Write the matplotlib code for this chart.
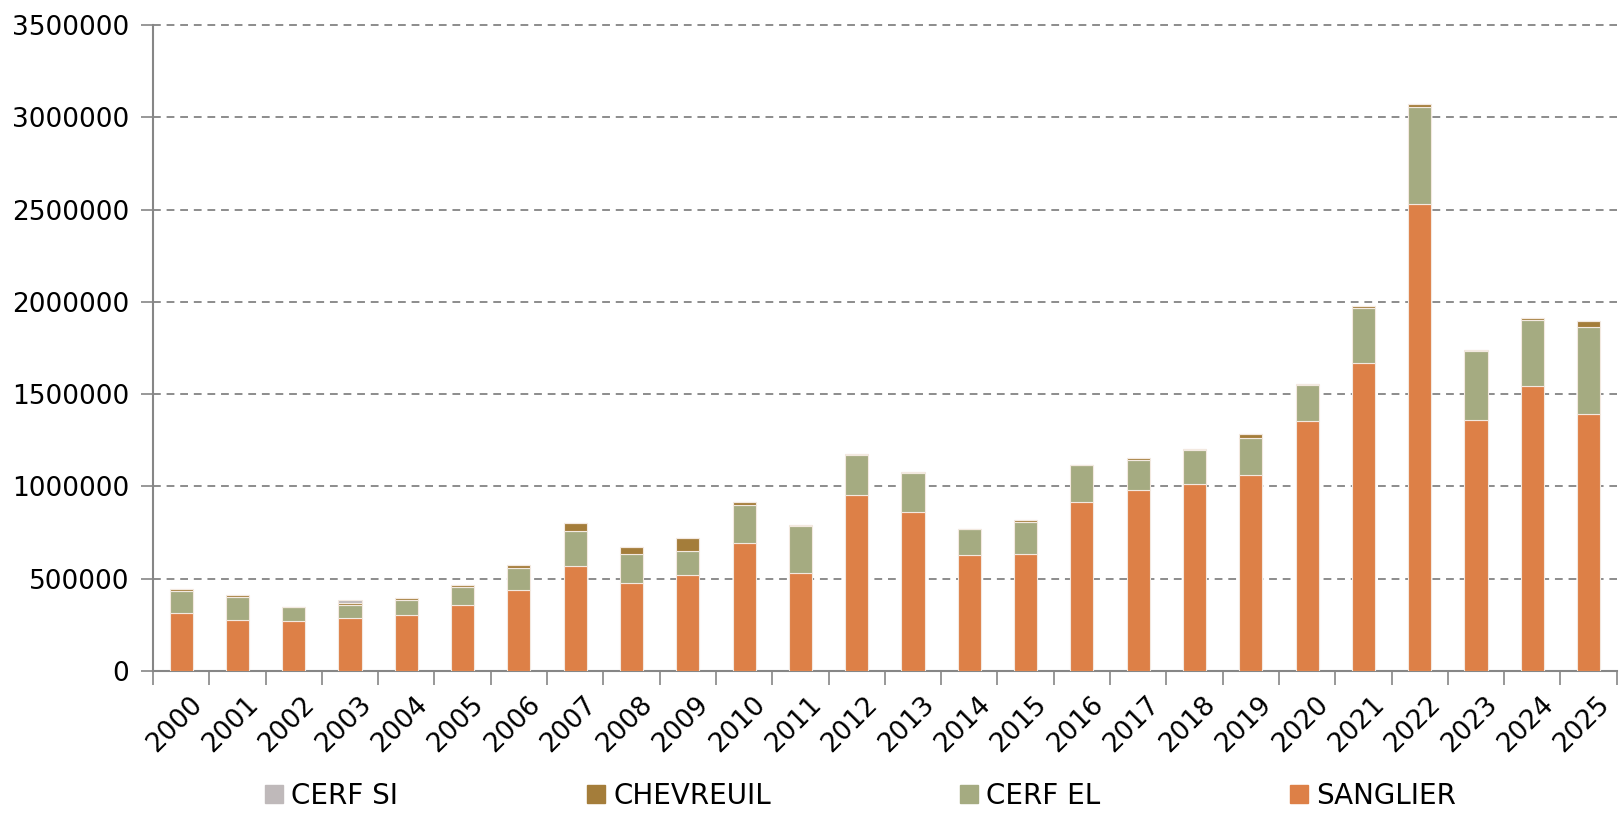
import numpy as np
import matplotlib.pyplot as plt
import matplotlib.transforms as mtransforms
from matplotlib.patches import Patch

years = [str(y) for y in range(2000, 2026)]

sanglier = [313000, 277000, 270000, 286000, 304000, 357000, 440000, 567000, 476000, 522000,
            694000, 533000, 951000, 864000, 626000, 636000, 915000, 978000, 1012000, 1061000,
            1355000, 1666000, 2528000, 1359000, 1542000, 1392000]
cerf_el = [118000, 123000, 76000, 74000, 82000, 96000, 116000, 194000, 156000, 130000,
           206000, 250000, 219000, 206000, 141000, 172000, 199000, 166000, 185000, 203000,
           197000, 302000, 530000, 377000, 360000, 473000]
chevreuil = [14000, 11000, 3000, 9000, 9000, 11000, 16000, 40000, 42000, 69000,
             17000, 7000, 7000, 9000, 2000, 11000, 3000, 9000, 5000, 19000,
             4000, 11000, 15000, 4000, 10000, 31000]
cerf_si = [0, 0, 0, 14000, 0, 0, 0, 0, 0, 0,
           0, 0, 0, 0, 0, 0, 0, 0, 0, 0,
           0, 0, 0, 0, 0, 0]

c_sanglier = '#dd8047'
c_cerf_el = '#a5ab81'
c_chev = '#a47d3a'
c_cerf_si = '#bfb9ba'

fig = plt.figure(figsize=(16.2, 8.25), dpi=100)
ax = fig.add_axes([0.0944, 0.1867, 0.9036, 0.783])

x = np.arange(len(years))
w = 0.41
edge = dict(edgecolor='#f3e9e0', linewidth=0.8)
b1 = np.array(sanglier)
b2 = b1 + np.array(cerf_el)
b3 = b2 + np.array(chevreuil)
ax.bar(x, sanglier, w, color=c_sanglier, zorder=3, **edge)
ax.bar(x, cerf_el, w, bottom=b1, color=c_cerf_el, zorder=3, **edge)
ax.bar(x, chevreuil, w, bottom=b2, color=c_chev, zorder=3, **edge)
ax.bar(x, cerf_si, w, bottom=b3, color=c_cerf_si, zorder=3, **edge)

ax.set_xlim(-0.5, len(years) - 0.5)
ax.set_ylim(0, 3500000)
ax.set_yticks(np.arange(0, 3500001, 500000))
ax.set_yticklabels([str(v) for v in range(0, 3500001, 500000)], fontsize=19)
ax.yaxis.grid(True, linestyle=(0, (4, 3)), color='#8c8c8c', linewidth=1.4, zorder=0)
for gl in ax.get_ygridlines():
    gl.set_clip_on(False)

# ticks at category boundaries, labels at centres
ax.set_xticks(np.arange(-0.5, len(years), 1.0))
ax.set_xticklabels([])
ax.set_xticks(x, minor=True)
ax.set_xticklabels(years, minor=True, rotation=45, ha='right', rotation_mode='anchor', fontsize=19)
ax.tick_params(axis='x', which='minor', length=0, pad=15)
ax.tick_params(axis='x', which='major', length=10, width=1.2, color='#868686')
ax.tick_params(axis='y', length=9, width=1.2, color='#868686', pad=8)
shift = mtransforms.ScaledTranslation(8 / 100, 0, fig.dpi_scale_trans)
for lab in ax.get_xticklabels(minor=True):
    lab.set_transform(lab.get_transform() + shift)

for s in ['top', 'right']:
    ax.spines[s].set_visible(False)
for s in ['left', 'bottom']:
    ax.spines[s].set_color('#868686')
    ax.spines[s].set_linewidth(1.5)

handles = [Patch(color=c_cerf_si, label='CERF SI'),
           Patch(color=c_chev, label='CHEVREUIL'),
           Patch(color=c_cerf_el, label='CERF EL'),
           Patch(color=c_sanglier, label='SANGLIER')]
fig.legend(handles=handles, loc='lower center', bbox_to_anchor=(0.531, -0.012), ncol=4,
           frameon=False, fontsize=20, handlelength=0.65, handleheight=0.65,
           handletextpad=0.3, columnspacing=6.8)

fig.savefig('out.png', dpi=100)
